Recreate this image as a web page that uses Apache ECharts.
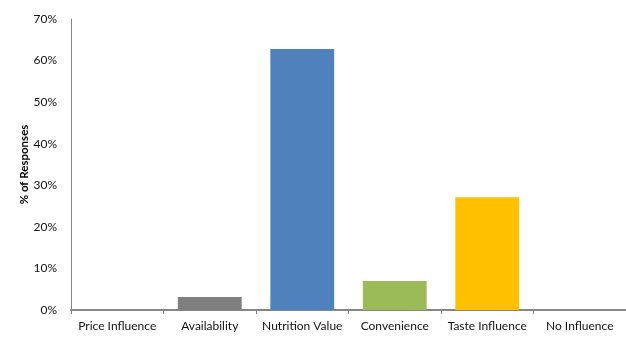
<!DOCTYPE html>
<html>
<head>
<meta charset="utf-8">
<script src="https://cdn.jsdelivr.net/npm/echarts@6/dist/echarts.min.js"></script>
<style>
  html, body { margin: 0; padding: 0; background: #fff; }
  #chart { width: 626px; height: 339px; }
</style>
</head>
<body>
<div id="chart"></div>
<script>
// Survey results: share of responses per influencing factor
const categories = ['Price Influence', 'Availability', 'Nutrition Value', 'Convenience', 'Taste Influence', 'No Influence'];
const responses = [0, 3.1, 62.8, 7.0, 27.1, 0];
const barColors = ['#7f7f7f', '#7f7f7f', '#4f81bd', '#9bbb59', '#ffc000', '#7f7f7f'];

const FONT = 'Lato, "Open Sans", sans-serif';

const chart = echarts.init(document.getElementById('chart'), null, { renderer: 'canvas' });
chart.setOption({
  animation: false,
  grid: { left: 71, right: 0, top: 19, bottom: 29 },
  xAxis: {
    type: 'category',
    data: categories,
    axisLine: { lineStyle: { color: '#868686', width: 2 } },
    axisTick: { show: true, interval: 0, alignWithLabel: false, length: 4, lineStyle: { color: '#868686', width: 1 } },
    axisLabel: { interval: 0, color: '#111', fontFamily: FONT, fontSize: 12, margin: 10 }
  },
  yAxis: {
    type: 'value',
    min: 0, max: 70, interval: 10,
    name: '% of Responses',
    nameLocation: 'middle',
    nameGap: 41,
    nameMoveOverlap: false,
    nameTextStyle: { color: '#000', fontFamily: FONT, fontSize: 11.5, fontWeight: 'bold' },
    axisLine: { show: true, lineStyle: { color: '#868686', width: 1 } },
    axisTick: { show: false },
    splitLine: { show: false },
    axisLabel: { color: '#111', fontFamily: FONT, fontSize: 12, margin: 14, formatter: '{value}%' }
  },
  series: [{
    type: 'bar',
    barWidth: '69%',
    data: responses.map((v, i) => ({ value: v, itemStyle: { color: barColors[i] } }))
  }]
});
</script>
</body>
</html>
